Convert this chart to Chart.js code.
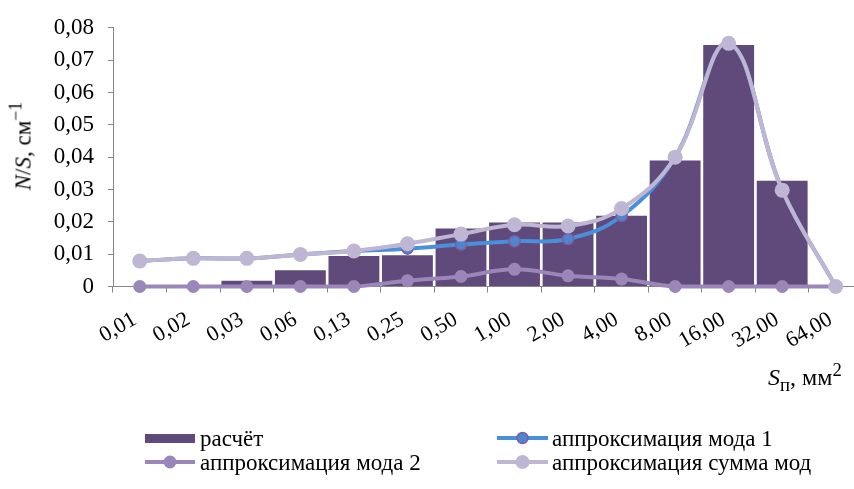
<!DOCTYPE html>
<html><head><meta charset="utf-8">
<script src="https://cdn.jsdelivr.net/npm/chart.js@4"></script>
<style>
html,body{margin:0;padding:0;width:854px;height:489px;overflow:hidden;background:#fff;font-family:"Liberation Serif","Times New Roman",serif;}
#wrap{position:absolute;left:0;top:0;width:870px;height:489px;}
canvas{display:block;}
.t{position:absolute;font-size:23px;color:#000;white-space:nowrap;line-height:23px;}
.sym{position:absolute;}
sup,sub{font-size:78%;line-height:0;}
</style>
</head><body>
<div id="wrap"><canvas id="c" width="870" height="489"></canvas></div>

<div class="t" id="ytitle" style="left:23px;top:146px;transform:translate(-50%,-50%) rotate(-90deg);"><i>N</i>/<i>S</i>, см<sup>−1</sup></div>
<div class="t" style="left:768px;top:365px;font-size:24px;line-height:24px;"><i>S</i><sub>п</sub>, мм<sup>2</sup></div>

<svg class="sym" style="left:145px;top:429px" width="52" height="20"><rect x="0" y="5" width="50" height="9" fill="#604A7B"/></svg>
<div class="t" style="left:200px;top:427px;">расчёт</div>

<svg class="sym" style="left:497px;top:428px" width="52" height="20"><line x1="0" y1="10" x2="51" y2="10" stroke="#4A8FDA" stroke-width="4"/><circle cx="25.5" cy="10" r="5.5" fill="#4F86D0" stroke="#7D5FA0" stroke-width="1.5"/></svg>
<div class="t" style="left:552px;top:427px;">аппроксимация мода 1</div>

<svg class="sym" style="left:145px;top:452px" width="52" height="20"><line x1="0" y1="10" x2="50" y2="10" stroke="#9A86B8" stroke-width="4"/><circle cx="25" cy="10" r="6.5" fill="#9A86B8"/></svg>
<div class="t" style="left:200px;top:451px;">аппроксимация мода 2</div>

<svg class="sym" style="left:497px;top:452px" width="52" height="20"><line x1="0" y1="10" x2="51" y2="10" stroke="#BFB6D3" stroke-width="4"/><circle cx="25.5" cy="10" r="7" fill="#BFB6D3"/></svg>
<div class="t" style="left:552px;top:451px;">аппроксимация сумма мод</div>

<script>
const categories = ['0,01','0,02','0,03','0,06','0,13','0,25','0,50','1,00','2,00','4,00','8,00','16,00','32,00','64,00'];
const raschet = [0, 0, 0.0018, 0.005, 0.0094, 0.0097, 0.0179, 0.0198, 0.0198, 0.0219, 0.039, 0.0747, 0.0327, 0];
const moda1   = [0.0079, 0.0087, 0.0087, 0.0099, 0.011, 0.0117, 0.013, 0.014, 0.0147, 0.0218, 0.040, 0.0752, 0.0298, 0];
const moda2   = [0, 0, 0, 0, 0, 0.0018, 0.0031, 0.0053, 0.0033, 0.0023, 0, 0, 0, 0];
const summa   = [0.0079, 0.0087, 0.0087, 0.0099, 0.011, 0.0132, 0.0162, 0.0191, 0.0187, 0.0241, 0.040, 0.0752, 0.0298, 0];
const yTickLabels = ['0','0,01','0,02','0,03','0,04','0,05','0,06','0,07','0,08'];

const AXIS = '#868686';
const FAMILY = '"Liberation Serif", "Times New Roman", serif';

new Chart(document.getElementById('c'), {
  type: 'bar',
  data: {
    labels: categories,
    datasets: [
      {type:'line', label:'аппроксимация сумма мод', data: summa, order:1,
       borderColor:'#BFB6D3', backgroundColor:'#BFB6D3', borderWidth:4, tension:0.4,
       pointRadius:7.5, pointBackgroundColor:'#BFB6D3', pointBorderWidth:0, fill:false, clip:false},
      {type:'line', label:'аппроксимация мода 2', data: moda2, order:2,
       borderColor:'#9A86B8', backgroundColor:'#9A86B8', borderWidth:4, tension:0.4,
       pointRadius:6.5, pointBackgroundColor:'#9A86B8', pointBorderWidth:0, fill:false, clip:false},
      {type:'line', label:'аппроксимация мода 1', data: moda1, order:3,
       borderColor:'#4A8FDA', backgroundColor:'#4F86D0', borderWidth:4, tension:0.4,
       pointRadius:5.5, pointBackgroundColor:'#4F86D0', pointBorderColor:'#7D5FA0', pointBorderWidth:1.5, fill:false, clip:false},
      {type:'bar', label:'расчёт', data: raschet, order:4,
       backgroundColor:'#604A7B', borderWidth:0, barPercentage:0.95, categoryPercentage:1.0}
    ]
  },
  options: {
    responsive:false, animation:false, devicePixelRatio:1,
    layout:{padding:{left:0, right:4, top:18, bottom:0}},
    plugins:{legend:{display:false}, tooltip:{enabled:false}},
    scales:{
      x:{
        offset:true,
        grid:{drawOnChartArea:false, drawTicks:true, tickLength:6, color:AXIS, offset:true},
        border:{color:AXIS, width:1},
        ticks:{color:'#000', font:{family:FAMILY, size:22}, autoSkip:false, maxRotation:30, minRotation:30, padding:14, labelOffset:-5},
        afterFit(s){ s.height = 489 - 286.5; }
      },
      y:{
        min:0, max:0.08,
        grid:{drawOnChartArea:false, drawTicks:true, tickLength:5, color:AXIS},
        border:{color:AXIS, width:1},
        ticks:{stepSize:0.01, color:'#000', font:{family:FAMILY, size:23}, padding:14,
               callback:(v,i)=>yTickLabels[i]},
        afterFit(s){ s.width = 113; }
      }
    }
  }
});
</script>
</body></html>
